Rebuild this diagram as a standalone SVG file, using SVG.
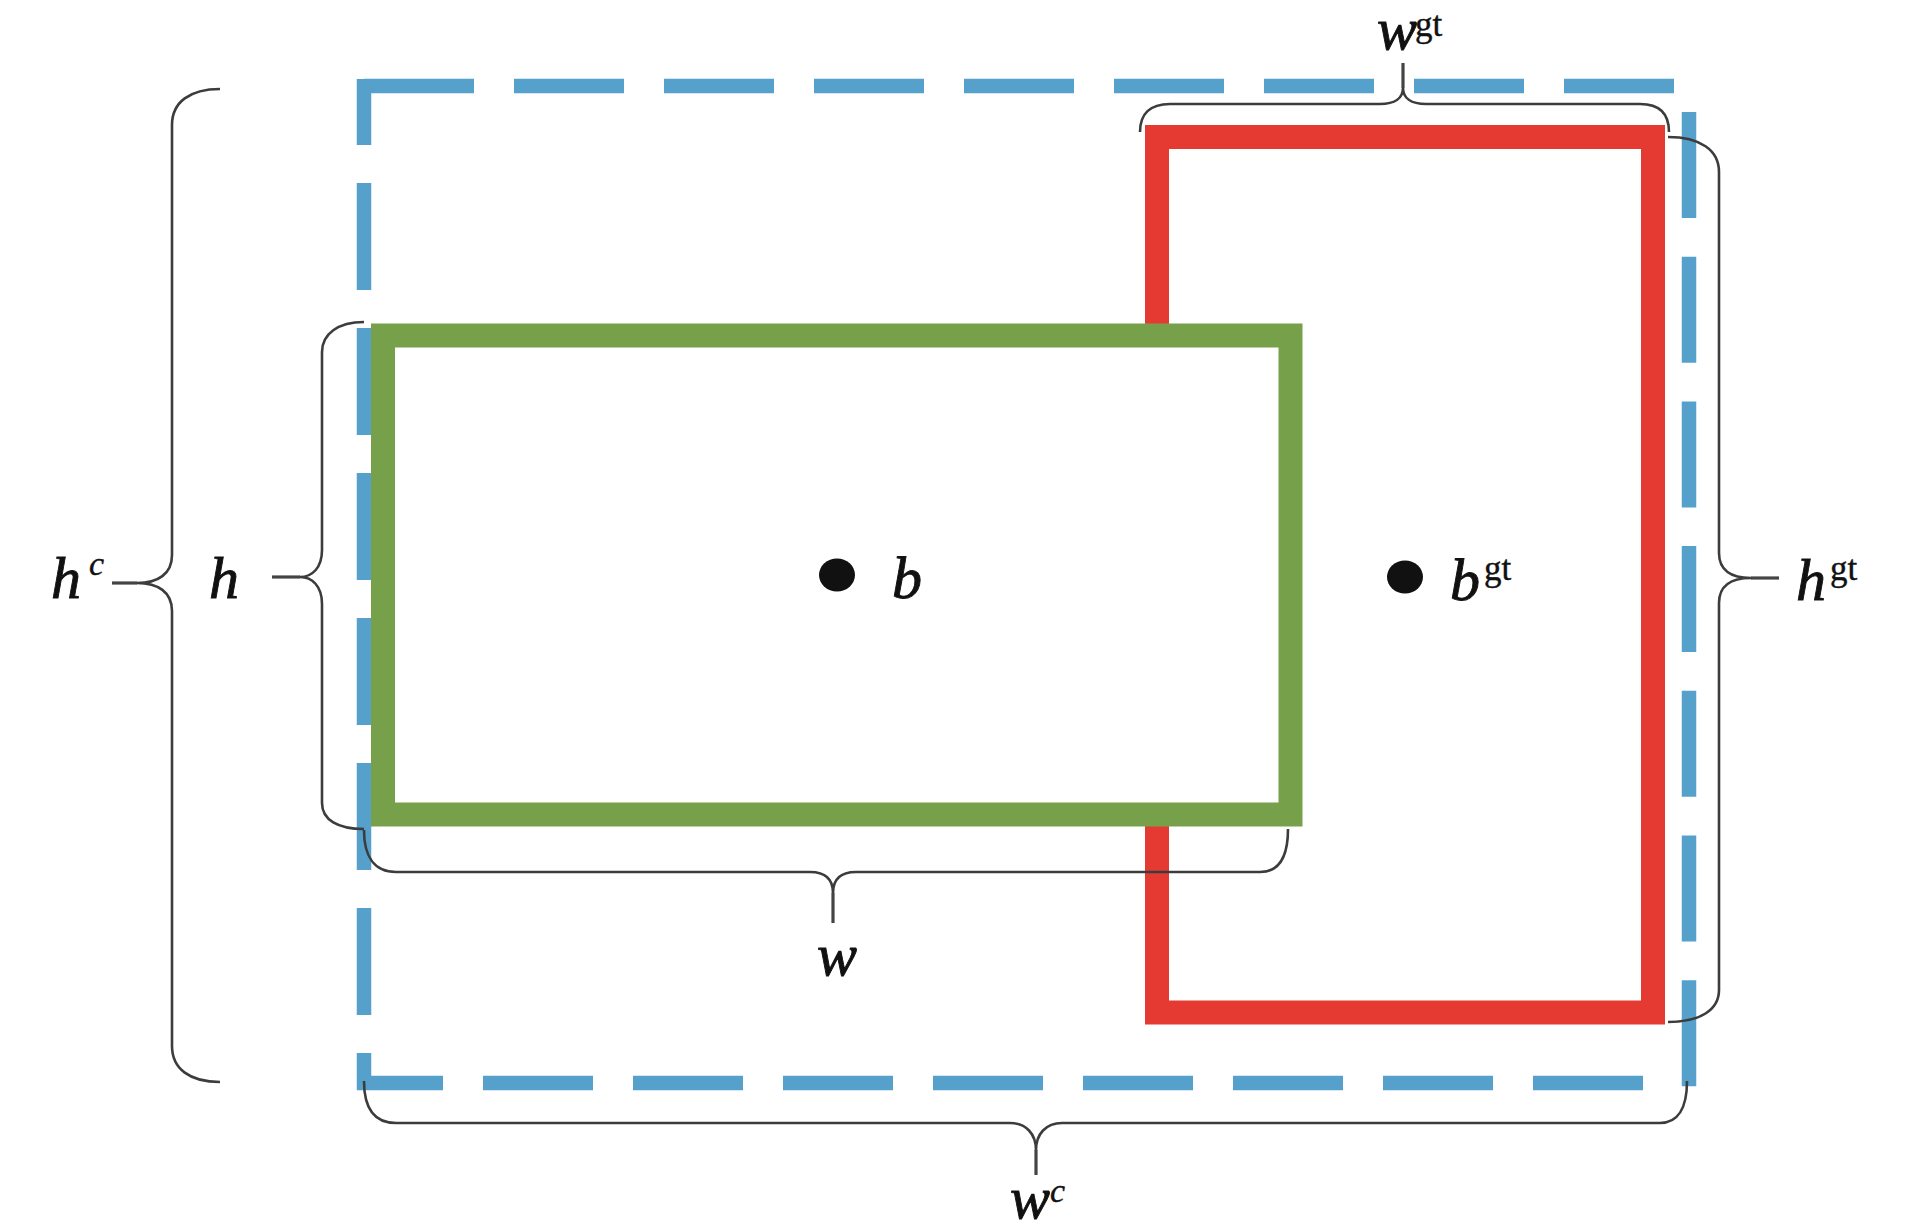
<svg xmlns="http://www.w3.org/2000/svg" width="1913" height="1228" viewBox="0 0 1913 1228">
<style>
.blue{fill:none;stroke:#55A1CC;stroke-width:14.5;stroke-linecap:butt}
.brace{fill:none;stroke:#3c3c3c;stroke-width:2.6;stroke-linejoin:round}
.stem{fill:none;stroke:#444;stroke-width:3.2}
.m{font-family:"Liberation Serif","Times New Roman",serif;font-style:italic;font-size:60px;fill:#111;stroke:#111;stroke-width:0.9}
.sup{font-family:"Liberation Serif","Times New Roman",serif;font-style:normal;font-size:35px;fill:#111;stroke:#111;stroke-width:0.4}
.supi{font-family:"Liberation Serif","Times New Roman",serif;font-style:italic;font-size:34px;fill:#111;stroke:#111;stroke-width:0.4}
.dot{fill:#111}
</style>
<rect width="1913" height="1228" fill="#fff"/>
<g id="box-c">
<path class="blue" d="M364,86 H1675" stroke-dasharray="110 40"/>
<path class="blue" d="M364,79 V1090" stroke-dasharray="107 38" stroke-dashoffset="41"/>
<path class="blue" d="M357,1083 H1643" stroke-dasharray="110 40" stroke-dashoffset="24"/>
<path class="blue" d="M1689,112 V1090" stroke-dasharray="106 38.7"/>
</g>
<g id="box-gt">
<rect x="1157" y="137" width="496" height="875.5" fill="none" stroke="#E53A32" stroke-width="24"/>
</g>
<g id="box-pred">
<rect x="383" y="335.5" width="907.5" height="479" fill="#fff" stroke="#77A04A" stroke-width="24"/>
</g>
<g id="connectors">
<path class="brace" d="M220,89 C190,89 172,102 172,125 L172,555 C172,574 158,583 137,583 C158,583 172,592 172,611 L172,1046 C172,1069 190,1082 220,1082"/>
<path class="stem" d="M137,583 H112"/>
<path class="brace" d="M364,322 C338,322 322,334 322,352 L322,550 C322,568 312,577 300,577 C312,577 322,586 322,604 L322,803 C322,820 338,829 364,829"/>
<path class="stem" d="M300,577 H272"/>
<path class="brace" d="M364,830 C364,856 374,872 396,872 L810,872 C826,872 833,880 833,893 C833,880 840,872 856,872 L1260,872 C1280,872 1288,856 1288,829"/>
<path class="stem" d="M833,893 V923"/>
<path class="brace" d="M364,1081 C364,1108 374,1123 396,1123 L1010,1123 C1026,1123 1036,1134 1036,1150 C1036,1134 1046,1123 1062,1123 L1660,1123 C1678,1123 1687,1108 1687,1081"/>
<path class="stem" d="M1036,1150 V1175"/>
<path class="brace" d="M1140,132 C1140,114 1150,104 1170,104 L1380,104 C1395,104 1403,98 1403,88 C1403,98 1411,104 1426,104 L1640,104 C1660,104 1669,114 1669,132"/>
<path class="stem" d="M1403,88 V63"/>
<path class="brace" d="M1668,137 C1700,137 1719,150 1719,172 L1719,553 C1719,570 1731,578 1751,578 C1731,578 1719,586 1719,603 L1719,990 C1719,1010 1700,1022 1668,1022"/>
<path class="stem" d="M1751,578 H1779"/>
</g>
<g id="center-b">
<ellipse class="dot" cx="837" cy="575" rx="18" ry="16.5"/>
<text class="m" x="892" y="598">b</text>
</g>
<g id="center-bgt">
<ellipse class="dot" cx="1405" cy="577" rx="18" ry="16.5"/>
<text class="m" x="1450" y="600">b<tspan class="sup" x="1484" y="580">gt</tspan></text>
</g>
<g id="labels">
<text class="m" x="51" y="598">h<tspan class="supi" x="89" y="575">c</tspan></text>
<text class="m" x="209" y="598">h</text>
<text class="m" x="1796" y="600">h<tspan class="sup" x="1830" y="580">gt</tspan></text>
<text class="m" x="1377" y="49">w<tspan class="sup" x="1415" y="36">gt</tspan></text>
<text class="m" x="817" y="975">w</text>
<text class="m" x="1010" y="1218">w<tspan class="supi" x="1050" y="1202">c</tspan></text>
</g>
</svg>
